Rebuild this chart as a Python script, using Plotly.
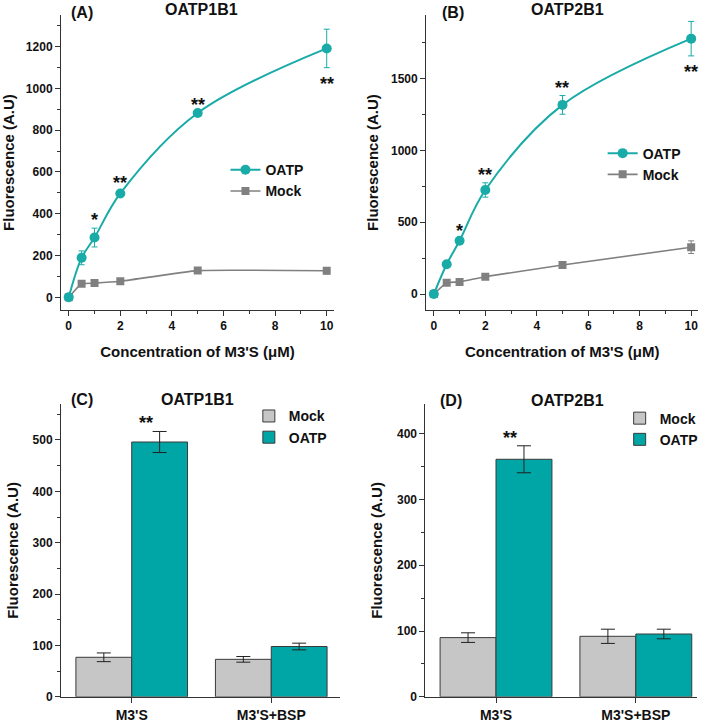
import plotly.graph_objects as go
from plotly.subplots import make_subplots

# --- data ---
conc = [0, 0.5, 1, 2, 5, 10]

a_oatp = [0, 189, 286, 497, 882, 1191]
a_oatp_err = [0, 33, 45, 12, 0, 92]
a_mock = [0, 65, 68, 77, 128, 127]
a_mock_err = [0, 5, 5, 5, 10, 15]
a_sig = ["", "", "*", "**", "**", "**"]
a_sig_side = ["up", "up", "up", "up", "up", "down"]

b_oatp = [0, 207, 371, 724, 1316, 1777]
b_oatp_err = [0, 10, 15, 50, 65, 120]
b_mock = [0, 79, 84, 121, 202, 326]
b_mock_err = [0, 6, 6, 8, 12, 44]
b_sig = ["", "", "*", "**", "**", "**"]
b_sig_side = ["up", "up", "up", "up", "up", "down"]

groups = ["M3'S", "M3'S+BSP"]
c_mock = [77, 73]
c_mock_err = [8.5, 5.5]
c_oatp = [496, 98]
c_oatp_err = [20.5, 6.5]

d_mock = [90, 92]
d_mock_err = [7.3, 10.8]
d_oatp = [361, 95.5]
d_oatp_err = [20.5, 7.3]

TEAL = "#19ABA7"
TEAL_BAR = "#00A5A5"
GREY = "#808080"
GREY_BAR = "#C6C6C6"
AXIS = "#333333"
FONT = "Liberation Sans, Arial, sans-serif"

fig = make_subplots(rows=2, cols=2)

# 折れ線パネル (A), (B)
def add_lines(oatp, oatp_err, mock, mock_err, row, col, leg):
    fig.add_trace(go.Scatter(
        x=conc, y=mock, name="Mock", mode="lines+markers",
        line=dict(color=GREY, width=1.6, shape="spline", smoothing=0.35),
        marker=dict(symbol="square", size=8, color=GREY),
        error_y=dict(type="data", array=mock_err, color=GREY, thickness=1, width=3),
        legend=leg, legendrank=2), row=row, col=col)
    fig.add_trace(go.Scatter(
        x=conc, y=oatp, name="OATP", mode="lines+markers",
        line=dict(color=TEAL, width=2, shape="spline", smoothing=1.0),
        marker=dict(symbol="circle", size=10, color=TEAL),
        error_y=dict(type="data", array=oatp_err, color=TEAL, thickness=1, width=3),
        legend=leg, legendrank=1), row=row, col=col)

add_lines(a_oatp, a_oatp_err, a_mock, a_mock_err, 1, 1, "legend")
add_lines(b_oatp, b_oatp_err, b_mock, b_mock_err, 1, 2, "legend2")

# 棒グラフ (C), (D)
def add_bars(mock, mock_err, oatp, oatp_err, row, col, leg):
    for name, vals, errs, colr in [("Mock", mock, mock_err, GREY_BAR),
                                    ("OATP", oatp, oatp_err, TEAL_BAR)]:
        fig.add_trace(go.Bar(
            x=groups, y=vals, name=name,
            marker=dict(color=colr, line=dict(color="#3a3a3a", width=1)),
            error_y=dict(type="data", array=errs, color="#222222", thickness=1, width=7),
            legend=leg), row=row, col=col)

add_bars(c_mock, c_mock_err, c_oatp, c_oatp_err, 2, 1, "legend3")
add_bars(d_mock, d_mock_err, d_oatp, d_oatp_err, 2, 2, "legend4")

# significance stars
def add_stars(xs, vals, errs, sig, side, xref, yref):
    for x, v, e, s, sd in zip(xs, vals, errs, sig, side):
        if not s:
            continue
        if sd == "up":
            y, shift = v + e, 8
        else:
            y, shift = v - e, -16
        fig.add_annotation(x=x, y=y, xref=xref, yref=yref, text=s, showarrow=False,
                           yanchor="middle", yshift=shift,
                           font=dict(size=18, color="#111111"))

add_stars(conc, a_oatp, a_oatp_err, a_sig, a_sig_side, "x", "y")
add_stars(conc, b_oatp, b_oatp_err, b_sig, b_sig_side, "x2", "y2")
add_stars([0.1], [c_oatp[0]], [c_oatp_err[0]], ["**"], ["up"], "x3", "y3")
add_stars([0.1], [d_oatp[0]], [d_oatp_err[0]], ["**"], ["up"], "x4", "y4")

# panel labels & titles
labels = [("(A)", 0.097, 0.983), ("(B)", 0.620, 0.983),
          ("(C)", 0.097, 0.448), ("(D)", 0.618, 0.447)]
for txt, x, y in labels:
    fig.add_annotation(text=txt, x=x, y=y, xref="paper", yref="paper", showarrow=False,
                       xanchor="left", yanchor="middle", font=dict(size=16, color="#111111"))
titles = [("OATP1B1", 0.284, 0.987), ("OATP2B1", 0.800, 0.987),
          ("OATP1B1", 0.278, 0.448), ("OATP2B1", 0.801, 0.447)]
for txt, x, y in titles:
    fig.add_annotation(text=txt, x=x, y=y, xref="paper", yref="paper", showarrow=False,
                       xanchor="center", yanchor="middle", font=dict(size=16, color="#111111"))

axis_common = dict(showline=True, linecolor=AXIS, linewidth=1, showgrid=False, zeroline=False,
                   ticks="outside", ticklen=5, tickcolor=AXIS, tickwidth=1, automargin=False,
                   tickfont=dict(size=12, color="#111111"))
bar_x_common = {**axis_common, "tickfont": dict(size=14, color="#111111")}
title_font = dict(size=15, color="#111111")

fig.update_layout(
    width=709, height=724,
    margin=dict(l=0, r=0, t=0, b=0),
    paper_bgcolor="white", plot_bgcolor="white",
    font=dict(family=FONT, weight="bold", color="#111111"),
    barmode="group", bargap=0.2, bargroupgap=0,
    xaxis=dict(domain=[0.086, 0.471], range=[-0.3, 10.28], tickvals=[0, 2, 4, 6, 8, 10],
               minor=dict(dtick=1, tick0=0, ticks="outside", ticklen=3, tickcolor=AXIS),
               title=dict(text="Concentration of M3'S (μM)", font=title_font, standoff=14),
               anchor="y", **axis_common),
    yaxis=dict(domain=[0.572, 0.979], range=[-60, 1350], dtick=200,
               minor=dict(dtick=100, ticks="outside", ticklen=3, tickcolor=AXIS),
               title=dict(text="Fluorescence (A.U)", font=title_font, standoff=8),
               anchor="x", **axis_common),
    xaxis2=dict(domain=[0.601, 0.985], range=[-0.3, 10.28], tickvals=[0, 2, 4, 6, 8, 10],
                minor=dict(dtick=1, tick0=0, ticks="outside", ticklen=3, tickcolor=AXIS),
                title=dict(text="Concentration of M3'S (μM)", font=title_font, standoff=14),
                anchor="y2", **axis_common),
    yaxis2=dict(domain=[0.572, 0.979], range=[-110, 1940], dtick=500,
                minor=dict(dtick=250, ticks="outside", ticklen=3, tickcolor=AXIS),
                title=dict(text="Fluorescence (A.U)", font=title_font, standoff=8),
                anchor="x2", **axis_common),
    xaxis3=dict(domain=[0.086, 0.480], range=[-0.507, 1.495], anchor="y3", **bar_x_common),
    yaxis3=dict(domain=[0.0375, 0.442], range=[0, 570], dtick=100,
                minor=dict(dtick=50, ticks="outside", ticklen=3, tickcolor=AXIS),
                title=dict(text="Fluorescence (A.U)", font=title_font, standoff=10),
                anchor="x3", **axis_common),
    xaxis4=dict(domain=[0.600, 0.983], range=[-0.505, 1.437], anchor="y4", **bar_x_common),
    yaxis4=dict(domain=[0.0375, 0.442], range=[0, 445], dtick=100,
                minor=dict(dtick=50, ticks="outside", ticklen=3, tickcolor=AXIS),
                title=dict(text="Fluorescence (A.U)", font=title_font, standoff=10),
                anchor="x4", **axis_common),
    legend=dict(x=0.318, y=0.787, xanchor="left", yanchor="top", bgcolor="rgba(0,0,0,0)",
                font=dict(size=14), tracegroupgap=0),
    legend2=dict(x=0.850, y=0.810, xanchor="left", yanchor="top", bgcolor="rgba(0,0,0,0)",
                 font=dict(size=14), tracegroupgap=0),
    legend3=dict(x=0.351, y=0.447, xanchor="left", yanchor="top", bgcolor="rgba(0,0,0,0)",
                 font=dict(size=14), tracegroupgap=0),
    legend4=dict(x=0.874, y=0.444, xanchor="left", yanchor="top", bgcolor="rgba(0,0,0,0)",
                 font=dict(size=14), tracegroupgap=0),
)

# ブラウザ既定の body 余白 (8px) を消す
fig.write_html("out.html", config={"displayModeBar": False},
               post_script="document.body.style.margin='0';")
